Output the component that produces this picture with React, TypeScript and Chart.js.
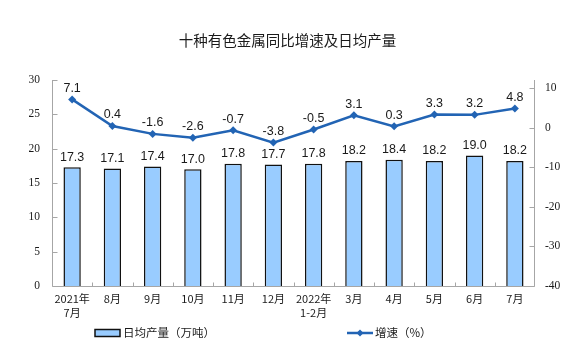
import React, { useEffect, useRef } from 'react';
import { Chart, registerables } from 'chart.js';

Chart.register(...registerables);

const chartTitle = '十种有色金属同比增速及日均产量';
const categories: (string | string[])[] = [
  ['2021年', '7月'], '8月', '9月', '10月', '11月', '12月',
  ['2022年', '1-2月'], '3月', '4月', '5月', '6月', '7月',
];
const outputValues = [17.3, 17.1, 17.4, 17.0, 17.8, 17.7, 17.8, 18.2, 18.4, 18.2, 19.0, 18.2];
const growthValues = [7.1, 0.4, -1.6, -2.6, -0.7, -3.8, -0.5, 3.1, 0.3, 3.3, 3.2, 4.8];
const leftTickValues = [0, 5, 10, 15, 20, 25, 30];
const rightTickValues = [-40, -30, -20, -10, 0, 10];
const outputLabel = '日均产量（万吨）';
const growthLabel = '增速（%）';

const BAR_FILL = '#99CCFF';
const LINE_COLOR = '#2264B4';
const AXIS_COLOR = '#A6A6A6';
const TEXT_COLOR = '#1a1a1a';
const CJK = '"Noto Sans CJK SC", "Noto Sans", sans-serif';

const decorPlugin = {
  id: 'decor',
  afterDraw(chart: any) {
    const { ctx, chartArea: a, scales } = chart;
    ctx.save();

    // title
    ctx.fillStyle = TEXT_COLOR;
    ctx.font = `14.5px ${CJK}`;
    ctx.textAlign = 'center';
    ctx.textBaseline = 'middle';
    ctx.fillText(chartTitle, chart.width / 2, 40);

    // axes lines
    ctx.strokeStyle = AXIS_COLOR;
    ctx.lineWidth = 1;
    ctx.beginPath();
    const L = Math.round(a.left) + 0.5;
    const R = Math.round(a.right) - 0.5;
    const B = Math.round(a.bottom) + 0.5;
    ctx.moveTo(L, a.top);
    ctx.lineTo(L, B);
    ctx.lineTo(R, B);
    ctx.moveTo(R, a.top);
    ctx.lineTo(R, B);
    leftTickValues.forEach((v) => {
      const y = Math.round(scales.y.getPixelForValue(v)) + 0.5;
      ctx.moveTo(L, y);
      ctx.lineTo(L + 5, y);
    });
    rightTickValues.forEach((v) => {
      const y = Math.round(scales.y1.getPixelForValue(v)) + 0.5;
      ctx.moveTo(R, y);
      ctx.lineTo(R - 5, y);
    });
    const n = categories.length;
    for (let i = 1; i < n; i++) {
      const x = Math.round(a.left + ((a.right - a.left) * i) / n) + 0.5;
      ctx.moveTo(x, B);
      ctx.lineTo(x, B - 4);
    }
    ctx.stroke();

    // data labels
    ctx.fillStyle = TEXT_COLOR;
    ctx.font = '12.5px "Liberation Sans", Arial, sans-serif';
    ctx.textAlign = 'center';
    ctx.textBaseline = 'middle';
    chart.getDatasetMeta(0).data.forEach((el: any, i: number) => {
      ctx.fillText(outputValues[i].toFixed(1), el.x, el.y - 10);
    });
    chart.getDatasetMeta(1).data.forEach((el: any, i: number) => {
      ctx.fillText(growthValues[i].toFixed(1), el.x, el.y - 11);
    });

    // legend
    const ly = 333;
    ctx.fillStyle = BAR_FILL;
    ctx.strokeStyle = '#111';
    ctx.lineWidth = 1.5;
    ctx.fillRect(95, ly - 3.5, 25, 7);
    ctx.strokeRect(95, ly - 3.5, 25, 7);
    ctx.fillStyle = TEXT_COLOR;
    ctx.font = `11.5px ${CJK}`;
    ctx.textAlign = 'left';
    ctx.fillText(outputLabel, 123, ly);

    ctx.strokeStyle = LINE_COLOR;
    ctx.lineWidth = 2.5;
    ctx.beginPath();
    ctx.moveTo(347, ly);
    ctx.lineTo(373, ly);
    ctx.stroke();
    ctx.fillStyle = LINE_COLOR;
    ctx.beginPath();
    ctx.moveTo(360, ly - 3.5);
    ctx.lineTo(363.5, ly);
    ctx.lineTo(360, ly + 3.5);
    ctx.lineTo(356.5, ly);
    ctx.closePath();
    ctx.fill();
    ctx.fillStyle = TEXT_COLOR;
    ctx.fillText(growthLabel, 375, ly);

    ctx.restore();
  },
};

export default function App() {
  const ref = useRef<HTMLCanvasElement>(null);

  useEffect(() => {
    if (!ref.current) return;
    const chart = new Chart(ref.current, {
      type: 'bar',
      data: {
        labels: categories as any,
        datasets: [
          {
            type: 'bar',
            label: outputLabel,
            data: outputValues,
            backgroundColor: BAR_FILL,
            borderColor: '#111111',
            borderWidth: 1.5,
            barPercentage: 0.43,
            categoryPercentage: 1,
            yAxisID: 'y',
            order: 2,
          },
          {
            type: 'line',
            label: growthLabel,
            data: growthValues,
            borderColor: LINE_COLOR,
            backgroundColor: LINE_COLOR,
            borderWidth: 2.5,
            pointStyle: 'rectRot',
            pointRadius: 4,
            pointBorderWidth: 0,
            tension: 0,
            yAxisID: 'y1',
            order: 1,
          } as any,
        ],
      },
      options: {
        responsive: false,
        animation: false,
        layout: { padding: { top: 80, left: 0, right: 0, bottom: 0 } },
        plugins: {
          legend: { display: false },
          tooltip: { enabled: false },
          title: { display: false },
        },
        scales: {
          x: {
            offset: true,
            grid: { display: false, drawTicks: false },
            border: { display: false },
            ticks: {
              color: TEXT_COLOR,
              font: { family: CJK, size: 11, lineHeight: 1.25 },
              padding: 6,
              maxRotation: 0,
              autoSkip: false,
            },
            afterFit: (s: any) => {
              s.height = 69;
            },
          },
          y: {
            position: 'left',
            min: 0,
            max: 30,
            grid: { display: false, drawTicks: false },
            border: { display: false },
            ticks: {
              stepSize: 5,
              color: TEXT_COLOR,
              font: { family: '"Liberation Serif", "Times New Roman", serif', size: 11.5 },
              padding: 12,
            },
            afterFit: (s: any) => {
              s.width = 52;
            },
          },
          y1: {
            position: 'right',
            min: -40,
            max: 12,
            grid: { display: false, drawTicks: false },
            border: { display: false },
            afterBuildTicks: (s: any) => {
              s.ticks = rightTickValues.map((v) => ({ value: v }));
            },
            ticks: {
              color: TEXT_COLOR,
              font: { family: '"Liberation Serif", "Times New Roman", serif', size: 11.5 },
              padding: 10,
            },
            afterFit: (s: any) => {
              s.width = 40;
            },
          },
        },
      },
      plugins: [decorPlugin],
    });
    return () => chart.destroy();
  }, []);

  return (
    <div style={{ position: 'fixed', left: 0, top: 0, width: 575, height: 355, background: '#fff' }}>
      <canvas ref={ref} width={575} height={355} style={{ display: 'block' }} />
    </div>
  );
}
